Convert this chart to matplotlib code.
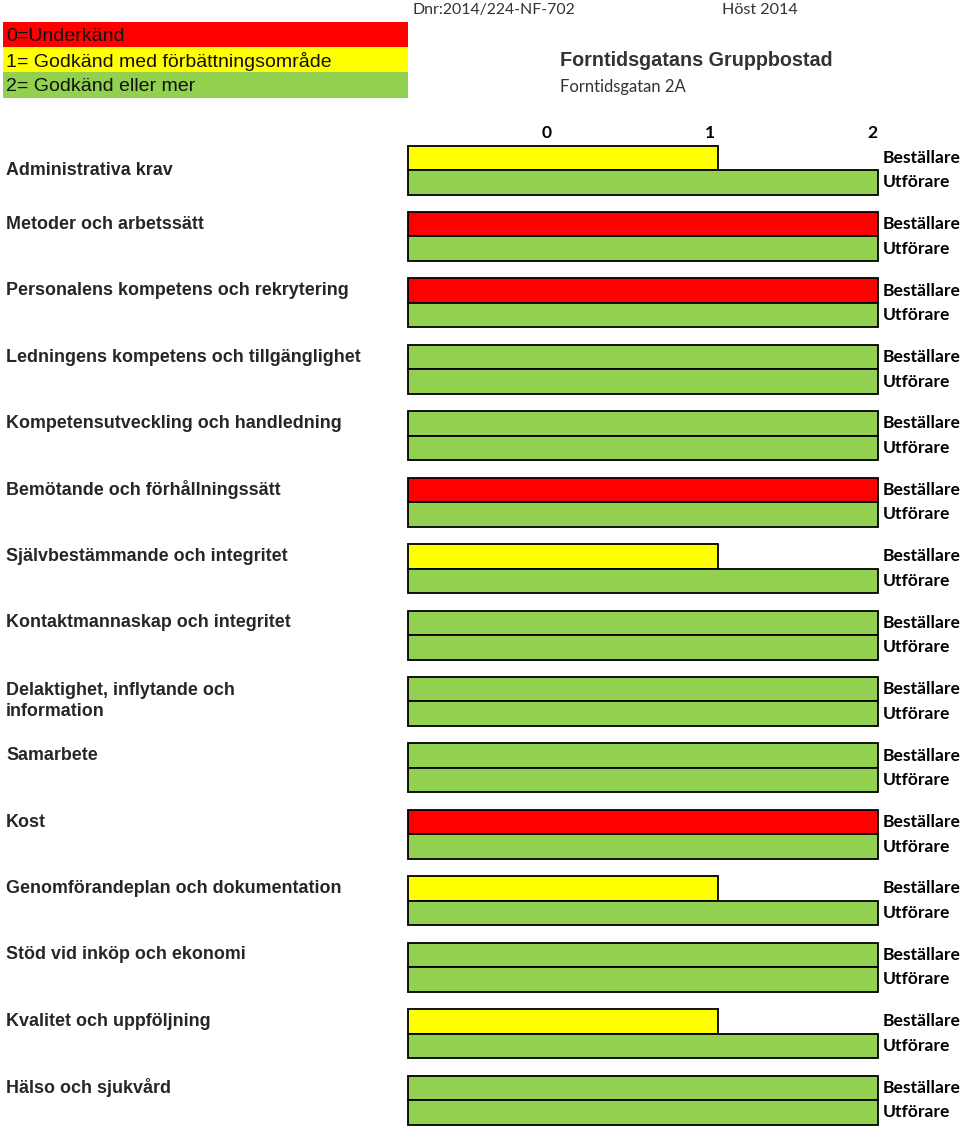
import matplotlib
matplotlib.use("Agg")
import matplotlib.pyplot as plt
from matplotlib.patches import Rectangle

# categories and scores (0=Underkänd, 1=Godkänd med förbättringsområde, 2=Godkänd eller mer)
categories = [
    "Administrativa krav",
    "Metoder och arbetssätt",
    "Personalens kompetens och rekrytering",
    "Ledningens kompetens och tillgänglighet",
    "Kompetensutveckling och handledning",
    "Bemötande och förhållningssätt",
    "Självbestämmande och integritet",
    "Kontaktmannaskap och integritet",
    "Delaktighet, inflytande och\ninformation",
    "Samarbete",
    "Kost",
    "Genomförandeplan och dokumentation",
    "Stöd vid inköp och ekonomi",
    "Kvalitet och uppföljning",
    "Hälso och sjukvård",
]
bestallare = [1, 0, 0, 2, 2, 0, 1, 2, 2, 2, 0, 1, 2, 1, 2]
utforare = [2, 2, 2, 2, 2, 2, 2, 2, 2, 2, 2, 2, 2, 2, 2]
series_names = ["Beställare", "Utförare"]
tick_values = [0, 1, 2]

legend_labels = ["0=Underkänd", "1= Godkänd med förbättningsområde", "2= Godkänd eller mer"]
score_colors = {0: "#FF0000", 1: "#FFFF00", 2: "#92D050"}
# bar end per score as drawn in the sheet (bars start left of 0)
score_end = {0: 2.04, 1: 1.05, 2: 2.04}
bar_start = -0.855

W, H = 960, 1128
fig = plt.figure(figsize=(W / 100, H / 100), dpi=100)
ax = fig.add_axes([0, 0, 1, 1])
ax.axis("off")

# pixel mapping for the axes
xscale = 162.5
x0px = 547
ax.set_xlim(-x0px / xscale, (W - x0px) / xscale)
row_px = 66.43
first_px = 170
ax.set_ylim((H - first_px) / row_px, -first_px / row_px)

h = 24.5 / row_px
for i in range(len(categories)):
    for j, vals in enumerate([bestallare, utforare]):
        s = vals[i]
        yc = i - h / 2 if j == 0 else i + h / 2
        ax.barh(yc, score_end[s] - bar_start, left=bar_start, height=h,
                color=score_colors[s], edgecolor="black", linewidth=1.3)
        ax.text(2.04 + 4 / xscale, yc, series_names[j], ha="left", va="center",
                fontsize=12.6, fontweight="bold", family="Lato", color="black")
    # first label sits between its two bars, the others beside the upper bar
    ylab = i if i == 0 else i - h / 2
    if "\n" in categories[i]:
        ylab += 12 / row_px
    ax.text(-x0px / xscale + 6 / xscale, ylab, categories[i], ha="left", va="center",
            fontsize=12.9, fontweight="bold", family="Liberation Sans", color="#262626",
            linespacing=1.3)

for t in tick_values:
    ax.text(t, -(first_px - 133) / row_px, str(t), ha="center", va="center",
            fontsize=12.6, fontweight="bold", family="Lato")


def fx(x):
    return x / W


def fy(y):
    return 1 - y / H


# colour legend boxes
box_top = [22, 47, 72]
box_h = 25.5
for k, lab in enumerate(legend_labels):
    fig.patches.append(Rectangle((fx(3), fy(box_top[k] + box_h)), fx(405), box_h / H,
                                 transform=fig.transFigure, facecolor=score_colors[k],
                                 edgecolor="none"))
    fig.text(fx(6), fy(box_top[k] + box_h / 2 + 1.5), lab, ha="left", va="center",
             fontsize=14, family="Liberation Sans", color="#111111")

fig.text(fx(412), fy(10), "Dnr:2014/224-NF-702", ha="left", va="center",
         fontsize=11.4, family="Lato", color="#333333")
fig.text(fx(722), fy(10), "Höst 2014", ha="left", va="center",
         fontsize=11.6, family="Lato", color="#333333")
fig.text(fx(560), fy(61), "Forntidsgatans Gruppbostad", ha="left", va="center",
         fontsize=14.2, fontweight="bold", family="Liberation Sans", color="#333333")
fig.text(fx(560), fy(87), "Forntidsgatan 2A", ha="left", va="center",
         fontsize=12, family="Lato", color="#333333")

fig.savefig("out.png", dpi=100)
